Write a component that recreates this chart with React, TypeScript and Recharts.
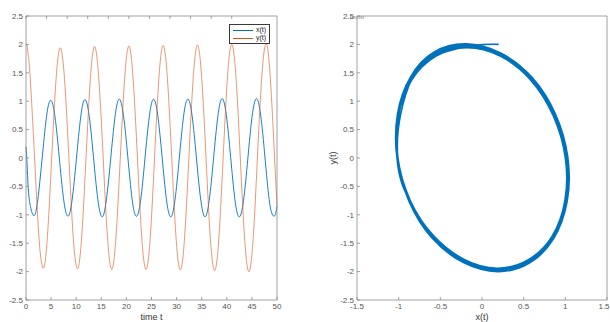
import React from 'react';
import { LineChart, Line, XAxis, YAxis, Legend } from 'recharts';

// Simulated oscillator: time samples and the two state variables
const timeT = [
  0, 0.21, 0.43, 0.85, 1.71, 2.56, 3.42, 4.27, 5.12, 5.98,
  6.83, 7.68, 8.54, 9.39, 10.25, 11.1, 11.95, 12.81, 13.66, 14.51,
  15.37, 16.22, 17.08, 17.93, 18.78, 19.64, 20.49, 21.34, 22.2, 23.05,
  23.91, 24.76, 25.61, 26.47, 27.32, 28.17, 29.03, 29.88, 30.74, 31.59,
  32.44, 33.3, 34.15, 35.0, 35.86, 36.71, 37.57, 38.42, 39.27, 40.13,
  40.98, 41.83, 42.69, 43.54, 44.4, 45.25, 46.1, 46.96, 47.81, 48.66,
  49.52, 50.0,
];

const xSeries = [
  0.2, -0.1, -0.52, -0.84, -1.01, -0.58, 0.18, 0.84, 1.0, 0.58,
  -0.18, -0.84, -1.01, -0.59, 0.18, 0.85, 1.01, 0.58, -0.19, -0.85,
  -1.02, -0.58, 0.18, 0.85, 1.02, 0.59, -0.18, -0.85, -1.01, -0.59,
  0.19, 0.85, 1.02, 0.59, -0.18, -0.85, -1.02, -0.59, 0.19, 0.86,
  1.02, 0.59, -0.19, -0.85, -1.02, -0.59, 0.19, 0.86, 1.03, 0.59,
  -0.19, -0.86, -1.02, -0.6, 0.19, 0.86, 1.03, 0.6, -0.19, -0.86,
  -1.02, -0.84,
];

const ySeries = [
  2.0, 1.98, 1.83, 1.4, 0.0, -1.37, -1.94, -1.38, 0.0, 1.38,
  1.94, 1.38, 0.01, -1.37, -1.95, -1.38, -0.01, 1.38, 1.96, 1.39,
  0.01, -1.38, -1.96, -1.39, 0.0, 1.39, 1.97, 1.39, 0.0, -1.39,
  -1.96, -1.39, 0.01, 1.4, 1.98, 1.4, 0.0, -1.39, -1.97, -1.4,
  -0.01, 1.4, 1.99, 1.41, 0.01, -1.4, -1.98, -1.41, 0.0, 1.42,
  2.0, 1.42, 0.0, -1.41, -2.0, -1.42, 0.01, 1.42, 2.01, 1.42,
  0.0, -0.83,
];

const timeTicks = [0, 5, 10, 15, 20, 25, 30, 35, 40, 45, 50];
const valueTicks = [-2.5, -2, -1.5, -1, -0.5, 0, 0.5, 1, 1.5, 2, 2.5];
const phaseTicks = [-1.5, -1, -0.5, 0, 0.5, 1, 1.5];

const BLUE = '#0072BD';
const ORANGE = '#D95319';
const SERIES = [
  { key: 'x', label: 'x(t)', color: BLUE, width: 1, opacity: 0.9 },
  { key: 'y', label: 'y(t)', color: ORANGE, width: 0.75, opacity: 0.8 },
];

const timeData = timeT.map((t, i) => ({ t, x: xSeries[i], y: ySeries[i] }));
const phaseData = xSeries.map((x, i) => ({ px: x, py: ySeries[i] }));

const FONT = '"Liberation Sans", Arial, Helvetica, sans-serif';
const TEXT = '#555';
const BOX = '#8a8a8a';
const TICK_LEN = 3;
const GAP = 3;

const LeftTick = (props: any) => {
  const { x, y, payload } = props;
  return (
    <g>
      <text x={x} y={y} dy="0.35em" textAnchor="end" fontSize={8} fontFamily={FONT} fill={TEXT}>
        {String(payload.value)}
      </text>
      <line x1={x + GAP} x2={x + GAP + TICK_LEN} y1={y} y2={y} stroke={BOX} strokeWidth={0.8} />
    </g>
  );
};

// Bottom tick: label below the axis, short inward tick mark above it.
// maxX keeps the last label inside the drawing area.
const makeBottomTick = (maxX: number) => (props: any) => {
  const { x, y, payload } = props;
  const tx = Math.min(x, maxX - 6);
  return (
    <g>
      <text x={tx} y={y} dy="0.71em" textAnchor="middle" fontSize={8} fontFamily={FONT} fill={TEXT}>
        {String(payload.value)}
      </text>
      <line x1={x} x2={x} y1={y - GAP} y2={y - GAP - TICK_LEN} stroke={BOX} strokeWidth={0.8} />
    </g>
  );
};

const RightTick = (props: any) => {
  const { x, y } = props;
  return <line x1={x} x2={x - TICK_LEN} y1={y} y2={y} stroke={BOX} strokeWidth={0.8} />;
};

const TopTick = (props: any) => {
  const { x, y } = props;
  return <line x1={x} x2={x} y1={y} y2={y + TICK_LEN} stroke={BOX} strokeWidth={0.8} />;
};

const LegendBox = () => (
  <div
    style={{
      border: '1px solid #3a3a3a',
      background: '#fff',
      padding: '1px 3px 1px 3px',
      fontFamily: FONT,
      fontSize: 7,
      lineHeight: '8px',
      color: '#222',
    }}
  >
    {SERIES.map((s) => (
      <div key={s.key} style={{ display: 'flex', alignItems: 'center' }}>
        <span style={{ display: 'inline-block', width: 20, height: 0, borderTop: `1px solid ${s.color}`, marginRight: 3 }} />
        <span>{s.label}</span>
      </div>
    ))}
  </div>
);

const axisLine = { stroke: BOX, strokeWidth: 0.8 };

export default function App() {
  return (
    <div style={{ position: 'absolute', left: 0, top: 0, width: 610, height: 322, background: '#fff' }}>
      <div style={{ position: 'absolute', left: 0, top: 0 }}>
        <LineChart width={300} height={322} data={timeData} margin={{ top: 15, right: 22, bottom: 0, left: 0 }}>
          <XAxis
            xAxisId="b"
            dataKey="t"
            type="number"
            domain={[0, 50]}
            ticks={timeTicks}
            interval={0}
            height={22}
            tickSize={0}
            tickMargin={GAP}
            tickLine={false}
            axisLine={axisLine}
            tick={makeBottomTick(300)}
            label={{ value: 'time t', position: 'insideBottom', offset: 2, fontSize: 9, fill: '#333', fontFamily: FONT }}
          />
          <XAxis
            xAxisId="top"
            orientation="top"
            type="number"
            domain={[0, 50]}
            ticks={timeTicks}
            interval={0}
            height={1}
            tickSize={0}
            tickMargin={0}
            tickLine={false}
            axisLine={axisLine}
            tick={TopTick}
          />
          <YAxis
            yAxisId="l"
            type="number"
            domain={[-2.5, 2.5]}
            ticks={valueTicks}
            interval={0}
            width={26}
            tickSize={0}
            tickMargin={GAP}
            tickLine={false}
            axisLine={axisLine}
            tick={LeftTick}
          />
          <YAxis
            yAxisId="r"
            orientation="right"
            type="number"
            domain={[-2.5, 2.5]}
            ticks={valueTicks}
            interval={0}
            width={1}
            tickSize={0}
            tickMargin={0}
            tickLine={false}
            axisLine={axisLine}
            tick={RightTick}
          />
          {SERIES.map((s) => (
            <Line
              key={s.key}
              xAxisId="b"
              yAxisId="l"
              dataKey={s.key}
              name={s.label}
              type="natural"
              stroke={s.color}
              strokeWidth={s.width}
              strokeOpacity={s.opacity}
              dot={false}
              activeDot={false}
              isAnimationActive={false}
            />
          ))}
          <Legend
            layout="vertical"
            align="center"
            verticalAlign="middle"
            content={LegendBox}
            wrapperStyle={{ top: 24, left: 229, width: 'auto', height: 'auto' }}
          />
        </LineChart>
      </div>
      <div style={{ position: 'absolute', left: 300, top: 0 }}>
        <LineChart width={310} height={322} data={phaseData} margin={{ top: 15, right: 2, bottom: 0, left: 0 }}>
          <XAxis
            xAxisId="b"
            dataKey="px"
            type="number"
            domain={[-1.5, 1.5]}
            ticks={phaseTicks}
            interval={0}
            height={22}
            tickSize={0}
            tickMargin={GAP}
            tickLine={false}
            axisLine={axisLine}
            tick={makeBottomTick(310)}
            label={{ value: 'x(t)', position: 'insideBottom', offset: 2, fontSize: 9, fill: '#333', fontFamily: FONT }}
          />
          <XAxis
            xAxisId="top"
            orientation="top"
            type="number"
            domain={[-1.5, 1.5]}
            ticks={phaseTicks}
            interval={0}
            height={1}
            tickSize={0}
            tickMargin={0}
            tickLine={false}
            axisLine={axisLine}
            tick={TopTick}
          />
          <YAxis
            yAxisId="l"
            type="number"
            domain={[-2.5, 2.5]}
            ticks={valueTicks}
            interval={0}
            width={57}
            tickSize={0}
            tickMargin={GAP}
            tickLine={false}
            axisLine={axisLine}
            tick={LeftTick}
            label={{
              value: 'y(t)',
              angle: -90,
              position: 'insideLeft',
              offset: 33,
              fontSize: 9,
              fill: '#333',
              fontFamily: FONT,
              style: { textAnchor: 'middle' },
            }}
          />
          <YAxis
            yAxisId="r"
            orientation="right"
            type="number"
            domain={[-2.5, 2.5]}
            ticks={valueTicks}
            interval={0}
            width={1}
            tickSize={0}
            tickMargin={0}
            tickLine={false}
            axisLine={axisLine}
            tick={RightTick}
          />
          <Line
            xAxisId="b"
            yAxisId="l"
            dataKey="py"
            name="y(t)"
            type="natural"
            stroke={BLUE}
            strokeWidth={1.6}
            dot={false}
            activeDot={false}
            isAnimationActive={false}
          />
        </LineChart>
      </div>
    </div>
  );
}
